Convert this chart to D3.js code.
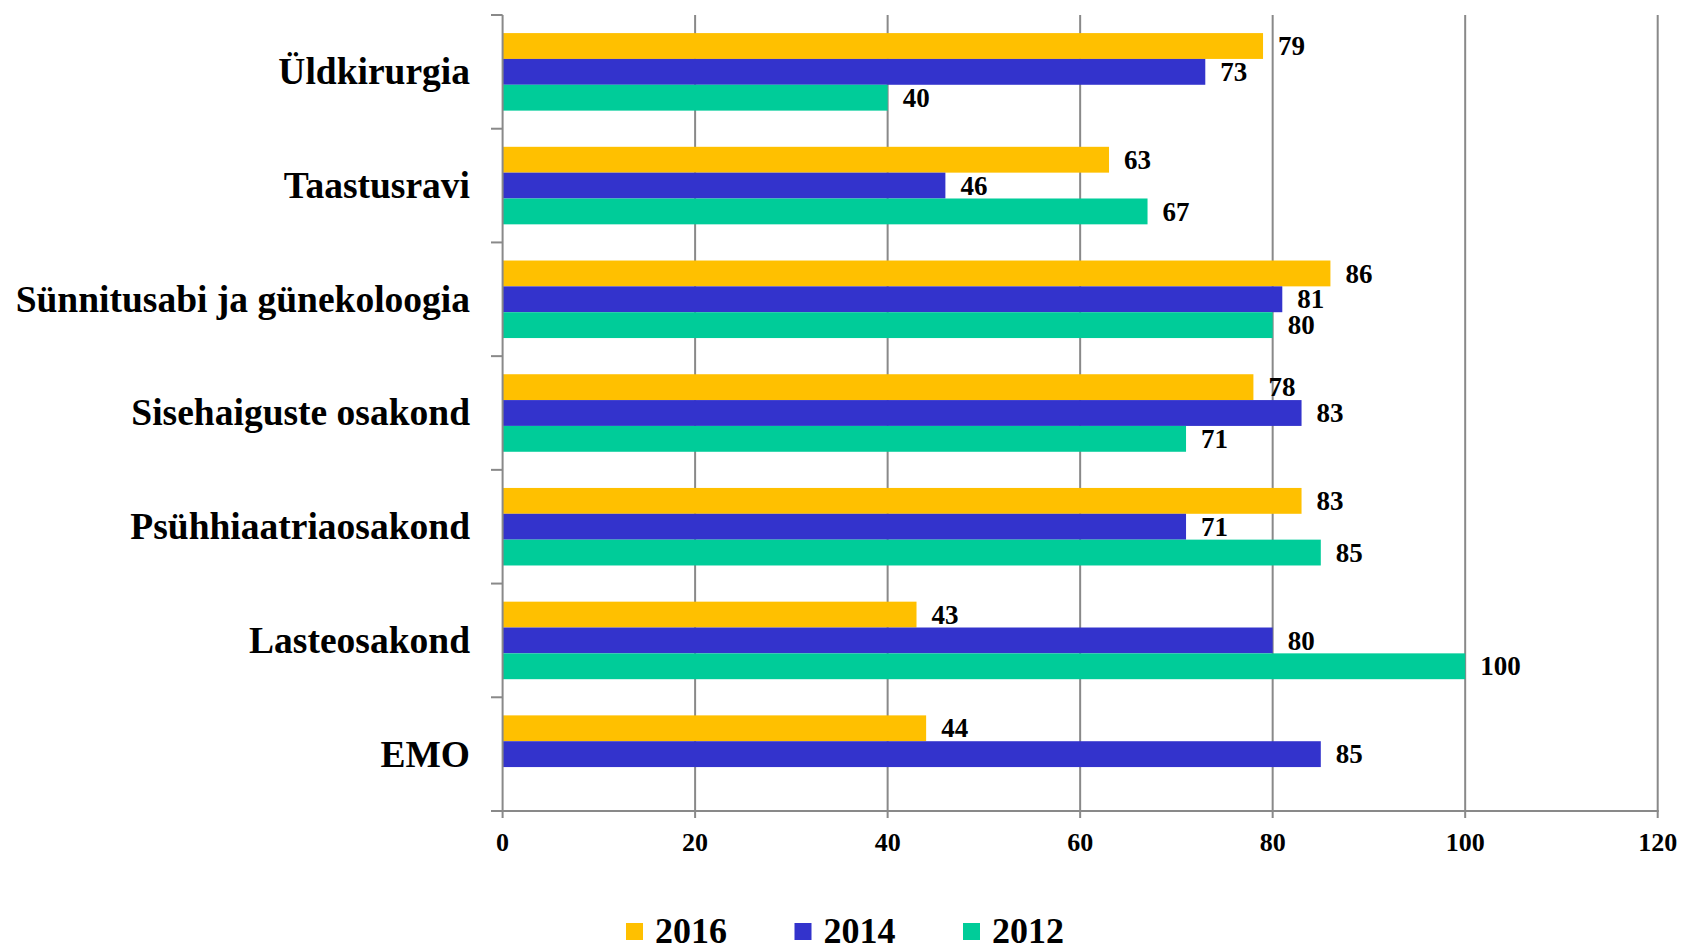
<!DOCTYPE html>
<html>
<head>
  <meta charset="utf-8">
  <title>Osakonnad 2012-2016</title>
  <script src="https://d3js.org/d3.v7.min.js"></script>
  <style>
    body { margin: 0; background: #fff; }
    text { font-family: "Liberation Serif", "Times New Roman", serif; font-weight: bold; fill: #000; }
  </style>
</head>
<body>
  <script>
    // data
    var categories = ['Üldkirurgia', 'Taastusravi', 'Sünnitusabi ja günekoloogia',
      'Sisehaiguste osakond', 'Psühhiaatriaosakond', 'Lasteosakond', 'EMO'];
    var seriesNames = ['2016', '2014', '2012'];
    var values2016 = [79, 63, 86, 78, 83, 43, 44];
    var values2014 = [73, 46, 81, 83, 71, 80, 85];
    var values2012 = [40, 67, 80, 71, 85, 100, null];
    var xTicks = [0, 20, 40, 60, 80, 100, 120];
    var colors = ['#FFC000', '#3333CC', '#00CC99'];

    var width = 1684, height = 950;
    var svg = d3.select('body').append('svg')
      .attr('width', width)
      .attr('height', height);

    var x = d3.scaleLinear().domain([0, 120]).range([502.6, 1657.7]);
    var y = d3.scaleBand().domain(categories).range([15, 811]);
    var ys = d3.scaleBand().domain(seriesNames).range([0, y.bandwidth()]).paddingOuter(0.7);
    var color = d3.scaleOrdinal().domain(seriesNames).range(colors);

    var allValues = [values2016, values2014, values2012];
    var rows = [];
    categories.forEach(function (c, i) {
      seriesNames.forEach(function (s, j) {
        if (allValues[j][i] != null) rows.push({cat: c, series: s, value: allValues[j][i]});
      });
    });

    // gridlines + x ticks
    var grid = svg.append('g');
    grid.selectAll('line')
      .data(xTicks.slice(1))
      .enter().append('line')
      .attr('x1', d => x(d)).attr('x2', d => x(d))
      .attr('y1', 15).attr('y2', 818)
      .attr('stroke', '#898989').attr('stroke-width', 2);

    // bars
    svg.append('g').selectAll('rect')
      .data(rows)
      .enter().append('rect')
      .attr('x', x(0))
      .attr('y', d => y(d.cat) + ys(d.series))
      .attr('width', d => x(d.value) - x(0))
      .attr('height', ys.bandwidth())
      .attr('fill', d => color(d.series));

    // y axis line and category ticks
    var axis = svg.append('g').attr('stroke', '#898989').attr('stroke-width', 2);
    axis.append('line')
      .attr('x1', x(0)).attr('x2', x(0))
      .attr('y1', 15).attr('y2', 818);
    axis.append('line')
      .attr('x1', 491).attr('x2', x(120) + 1)
      .attr('y1', 811).attr('y2', 811);
    var bounds = categories.map(c => y(c));
    axis.selectAll('.ytick')
      .data(bounds)
      .enter().append('line')
      .attr('class', 'ytick')
      .attr('x1', 491).attr('x2', x(0))
      .attr('y1', d => d).attr('y2', d => d);

    // x tick labels
    svg.append('g').selectAll('text')
      .data(xTicks)
      .enter().append('text')
      .attr('x', d => x(d))
      .attr('y', 842)
      .attr('dy', '0.34em')
      .attr('text-anchor', 'middle')
      .style('font-size', '26px')
      .text(d => d);

    // category labels
    svg.append('g').selectAll('text')
      .data(categories)
      .enter().append('text')
      .attr('x', 470)
      .attr('y', d => y(d) + y.bandwidth() / 2)
      .attr('dy', '0.33em')
      .attr('text-anchor', 'end')
      .style('font-size', '37.5px')
      .text(d => d);

    // value labels
    svg.append('g').selectAll('text')
      .data(rows)
      .enter().append('text')
      .attr('x', d => x(d.value) + 15)
      .attr('y', d => y(d.cat) + ys(d.series) + ys.bandwidth() / 2)
      .attr('dy', '0.34em')
      .style('font-size', '27px')
      .text(d => d.value);

    // legend
    var legend = svg.append('g').selectAll('g')
      .data(seriesNames)
      .enter().append('g')
      .attr('transform', (d, i) => 'translate(' + (626 + i * 168.5) + ',0)');
    legend.append('rect')
      .attr('x', 0).attr('y', 923)
      .attr('width', 17).attr('height', 17)
      .attr('fill', d => color(d));
    legend.append('text')
      .attr('x', 29).attr('y', 943)
      .style('font-size', '36px')
      .text(d => d);
  </script>
</body>
</html>
